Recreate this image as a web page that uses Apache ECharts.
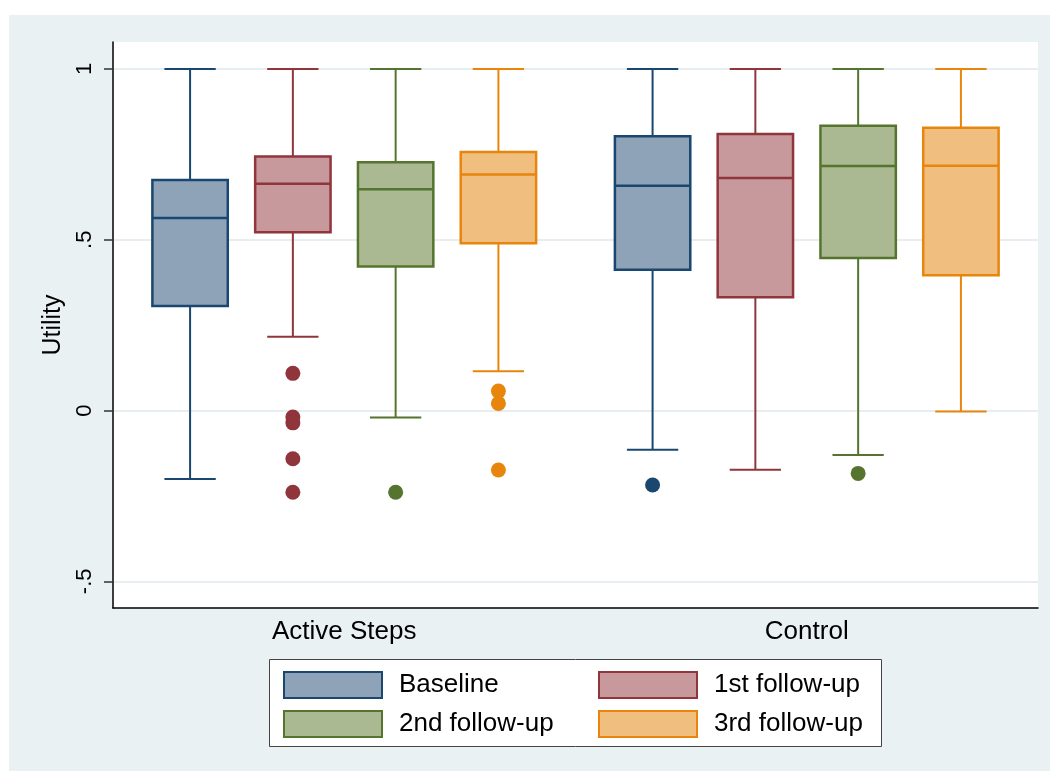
<!DOCTYPE html>
<html>
<head>
<meta charset="utf-8">
<title>Utility by group and wave</title>
<script src="https://cdn.jsdelivr.net/npm/echarts@6/dist/echarts.min.js"></script>
<style>
  html, body { margin: 0; padding: 0; background: #fff; }
  #chart { width: 1050px; height: 771px; }
</style>
</head>
<body>
<div id="chart"></div>
<script>
// categories
const groups = ['Active Steps', 'Control'];
const waves = ['Baseline', '1st follow-up', '2nd follow-up', '3rd follow-up'];

// box stats per group: [lower whisker, Q1, median, Q3, upper whisker]
const baselineBox = [[-0.200, 0.306, 0.564, 0.675, 1], [-0.115, 0.412, 0.658, 0.803, 1]];
const followUp1Box = [[0.216, 0.522, 0.664, 0.744, 1], [-0.173, 0.332, 0.681, 0.810, 1]];
const followUp2Box = [[-0.020, 0.422, 0.648, 0.727, 1], [-0.130, 0.447, 0.716, 0.834, 1]];
const followUp3Box = [[0.115, 0.490, 0.691, 0.757, 1], [-0.003, 0.396, 0.717, 0.828, 1]];

// outside values: [group, utility]
const baselineOut = [['Control', -0.218]];
const followUp1Out = [['Active Steps', 0.109], ['Active Steps', -0.019], ['Active Steps', -0.036], ['Active Steps', -0.141], ['Active Steps', -0.239]];
const followUp2Out = [['Active Steps', -0.239], ['Control', -0.184]];
const followUp3Out = [['Active Steps', 0.057], ['Active Steps', 0.021], ['Active Steps', -0.174]];

// y axis ticks
const yTicks = [-0.5, 0, 0.5, 1];
const yTickLabels = ['-.5', '0', '.5', '1'];

const boxSets = [baselineBox, followUp1Box, followUp2Box, followUp3Box];
const outSets = [baselineOut, followUp1Out, followUp2Out, followUp3Out];

// stata s2color look
const lineColors = ['#1a476f', '#90353b', '#55752f', '#e8850c'];
const fillColors = ['#8ea3b8', '#c8999c', '#abb993', '#f0be7e'];
const FONT = 'Liberation Sans, Arial, sans-serif';

// position of each wave inside a group band (fraction of band width)
const waveOffset = [-3 / 9, -1 / 9, 1 / 9, 3 / 9];
const boxFrac = 0.163;
const capFrac = 0.111;

const boxRenderer = (idx) => (params, api) => {
  const cat = api.value(0);
  const band = api.size([1, 0])[0];
  const cx = api.coord([cat, 0])[0] + waveOffset[idx] * band;
  const ys = [1, 2, 3, 4, 5].map(d => api.coord([cat, api.value(d)])[1]);
  const hw = boxFrac * band / 2;
  const cw = capFrac * band / 2;
  const stroke = { stroke: lineColors[idx], lineWidth: 2 };
  return {
    type: 'group',
    children: [
      { type: 'line', shape: { x1: cx, y1: ys[0], x2: cx, y2: ys[1] }, style: stroke },
      { type: 'line', shape: { x1: cx, y1: ys[3], x2: cx, y2: ys[4] }, style: stroke },
      { type: 'line', shape: { x1: cx - cw, y1: ys[0], x2: cx + cw, y2: ys[0] }, style: stroke },
      { type: 'line', shape: { x1: cx - cw, y1: ys[4], x2: cx + cw, y2: ys[4] }, style: stroke },
      {
        type: 'rect',
        shape: { x: cx - hw, y: ys[3], width: hw * 2, height: ys[1] - ys[3] },
        style: { fill: fillColors[idx], stroke: lineColors[idx], lineWidth: 2.5 }
      },
      { type: 'line', shape: { x1: cx - hw, y1: ys[2], x2: cx + hw, y2: ys[2] }, style: { stroke: lineColors[idx], lineWidth: 2.5 } }
    ]
  };
};

const outRenderer = (idx) => (params, api) => {
  const cat = api.value(0);
  const band = api.size([1, 0])[0];
  const p = api.coord([cat, api.value(1)]);
  return {
    type: 'circle',
    shape: { cx: p[0] + waveOffset[idx] * band, cy: p[1], r: 7.5 },
    style: { fill: lineColors[idx] }
  };
};

const series = [];
waves.forEach((name, i) => {
  series.push({
    name,
    type: 'custom',
    renderItem: boxRenderer(i),
    encode: { x: 0, y: [1, 2, 3, 4, 5] },
    itemStyle: { color: fillColors[i], borderColor: lineColors[i] },
    data: boxSets[i].map((b, g) => [groups[g], ...b]),
    silent: true
  });
});
waves.forEach((name, i) => {
  series.push({
    name,
    type: 'custom',
    renderItem: outRenderer(i),
    encode: { x: 0, y: 1 },
    z: 3,
    data: outSets[i],
    silent: true
  });
});

const legendItem = (i) => ({
  name: waves[i],
  icon: 'rect',
  itemStyle: { color: fillColors[i], borderColor: lineColors[i], borderWidth: 2 }
});

const legendBase = {
  orient: 'vertical',
  top: 671,
  padding: 0,
  itemGap: 11,
  itemWidth: 98,
  itemHeight: 26,
  selectedMode: false,
  textStyle: { fontFamily: FONT, fontSize: 26, color: '#000', padding: [0, 0, 0, 12] }
};

const chart = echarts.init(document.getElementById('chart'));
chart.setOption({
  backgroundColor: '#eaf1f3',
  animation: false,
  graphic: [
    { type: 'rect', left: 0, top: 0, shape: { width: 1050, height: 15 }, style: { fill: '#fff' } },
    { type: 'rect', left: 0, top: 0, shape: { width: 9, height: 771 }, style: { fill: '#fff' } },
    { type: 'rect', left: 269, top: 659, shape: { width: 612, height: 87 }, style: { fill: '#fff', stroke: '#444', lineWidth: 1 } }
  ],
  grid: {
    left: 113, top: 42, right: 12, bottom: 163,
    show: true, backgroundColor: '#fff', borderWidth: 0
  },
  legend: [
    { ...legendBase, left: 283, data: [legendItem(0), legendItem(2)] },
    { ...legendBase, left: 598, data: [legendItem(1), legendItem(3)] }
  ],
  xAxis: {
    type: 'category',
    data: groups,
    boundaryGap: true,
    axisLine: { onZero: false, lineStyle: { color: '#000', width: 1.5 } },
    axisTick: { show: false },
    axisLabel: { fontFamily: FONT, fontSize: 26, color: '#000', margin: 11 },
    splitLine: { show: false }
  },
  yAxis: {
    type: 'value',
    min: -0.578,
    max: 1.079,
    name: 'Utility',
    nameLocation: 'middle',
    nameRotate: 90,
    nameGap: 47,
    nameTextStyle: { fontFamily: FONT, fontSize: 25, color: '#000' },
    axisLine: { show: true, lineStyle: { color: '#000', width: 1.5 } },
    axisTick: { show: true, length: 9, customValues: yTicks, lineStyle: { color: '#333', width: 1.5 } },
    axisLabel: {
      customValues: yTicks,
      rotate: 90,
      margin: 17,
      fontFamily: FONT,
      fontSize: 22,
      color: '#000',
      formatter: (v) => yTickLabels[yTicks.indexOf(v)] ?? ''
    },
    splitLine: { show: true, lineStyle: { color: '#e6eef1', width: 2 } }
  },
  series
});
</script>
</body>
</html>
